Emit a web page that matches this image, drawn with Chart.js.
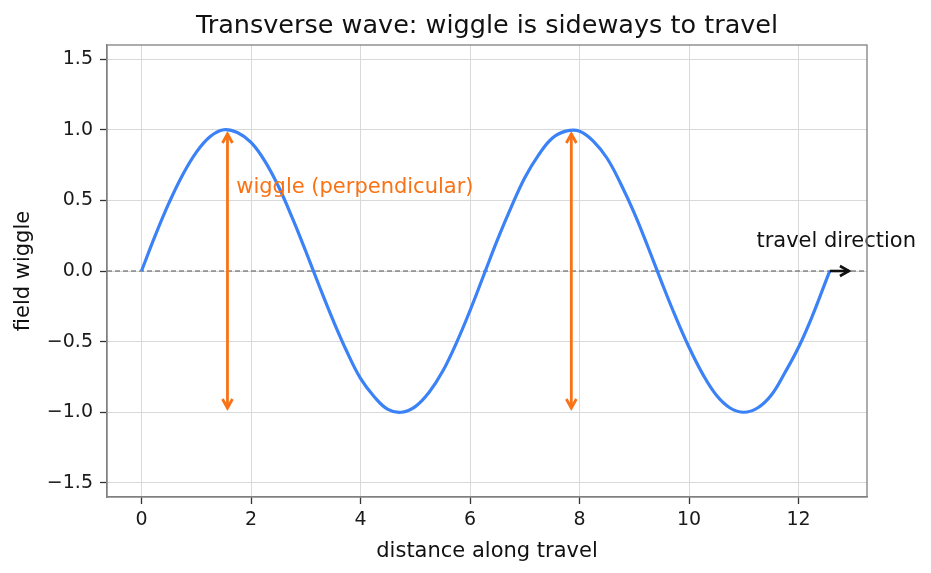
<!DOCTYPE html>
<html>
<head>
<meta charset="utf-8">
<script src="https://cdn.jsdelivr.net/npm/chart.js@4.4.1/dist/chart.umd.min.js"></script>
<style>
  html, body { margin: 0; padding: 0; background: #fff; }
  #wrap { width: 931px; height: 573px; }
</style>
</head>
<body>
<div id="wrap"><canvas id="myChart" width="931" height="573"></canvas></div>
<script>
// wave
const waveX = [0, 0.25, 0.5, 0.75, 1, 1.25, 1.5, 1.75, 2, 2.25, 2.5, 2.75, 3, 3.25, 3.5, 3.75, 4, 4.25, 4.5, 4.75, 5, 5.25, 5.5, 5.75, 6, 6.25, 6.5, 6.75, 7, 7.25, 7.5, 7.75, 8, 8.25, 8.5, 8.75, 9, 9.25, 9.5, 9.75, 10, 10.25, 10.5, 10.75, 11, 11.25, 11.5, 11.75, 12, 12.25, 12.5, 12.57];
const waveY = [0, 0.25, 0.48, 0.68, 0.84, 0.95, 1.0, 0.98, 0.91, 0.78, 0.6, 0.38, 0.14, -0.11, -0.35, -0.57, -0.76, -0.89, -0.98, -1.0, -0.96, -0.86, -0.71, -0.51, -0.28, -0.03, 0.22, 0.45, 0.66, 0.82, 0.94, 0.99, 0.99, 0.92, 0.8, 0.62, 0.41, 0.17, -0.08, -0.32, -0.54, -0.73, -0.88, -0.97, -1.0, -0.97, -0.88, -0.72, -0.54, -0.32, -0.07, 0];

// dashed baseline across the axes
const zeroX = [-0.63, 13.25];
const zeroY = [0, 0];

const xTicks = [0, 2, 4, 6, 8, 10, 12];
const yTicks = [-1.5, -1.0, -0.5, 0.0, 0.5, 1.0, 1.5];

// annotations
const wiggleArrowX = [1.57, 7.85];
const wiggleLow = -0.97;
const wiggleHigh = 0.97;
const travelFrom = 12.57;
const travelTo = 12.92;

const BLUE = "#3b82f6";
const ORANGE = "#f97316";
const FONT = "'DejaVu Sans', sans-serif";

function drawArrowHead(ctx, tx, ty, dx, dy, len, half) {
  // open "->" style head
  const n = Math.hypot(dx, dy);
  const ux = dx / n, uy = dy / n;
  ctx.beginPath();
  ctx.moveTo(tx - ux * len - uy * half, ty - uy * len + ux * half);
  ctx.lineTo(tx, ty);
  ctx.lineTo(tx - ux * len + uy * half, ty - uy * len - ux * half);
  ctx.stroke();
}

const decor = {
  id: "decor",
  afterDatasetsDraw(chart) {
    const { ctx, chartArea: a } = chart;
    const x = chart.scales.x, y = chart.scales.y;
    ctx.save();
    ctx.lineCap = "butt";
    ctx.lineJoin = "miter";

    // orange double arrows
    ctx.strokeStyle = ORANGE;
    ctx.lineWidth = 2.8;
    wiggleArrowX.forEach((v) => {
      const px = x.getPixelForValue(v);
      const y1 = y.getPixelForValue(wiggleLow);
      const y2 = y.getPixelForValue(wiggleHigh);
      ctx.beginPath();
      ctx.moveTo(px, y1);
      ctx.lineTo(px, y2);
      ctx.stroke();
      drawArrowHead(ctx, px, y2, 0, -1, 9, 5);
      drawArrowHead(ctx, px, y1, 0, 1, 9, 5);
    });

    // travel arrow
    ctx.strokeStyle = "#111";
    ctx.lineWidth = 2.6;
    const py = y.getPixelForValue(0);
    const p1 = x.getPixelForValue(travelFrom);
    const p2 = x.getPixelForValue(travelTo);
    ctx.beginPath();
    ctx.moveTo(p1, py);
    ctx.lineTo(p2, py);
    ctx.stroke();
    drawArrowHead(ctx, p2, py, 1, 0, 9, 5);

    // labels
    ctx.textBaseline = "alphabetic";
    ctx.textAlign = "left";
    ctx.font = "21px " + FONT;
    ctx.fillStyle = ORANGE;
    ctx.fillText("wiggle (perpendicular)", x.getPixelForValue(1.73), y.getPixelForValue(0.55));
    ctx.fillStyle = "#111";
    ctx.fillText("travel direction", x.getPixelForValue(11.23), y.getPixelForValue(0.17));

    // frame
    ctx.strokeStyle = "#808080";
    ctx.lineWidth = 1.3;
    ctx.strokeRect(a.left, a.top, a.right - a.left, a.bottom - a.top);

    // titles
    ctx.fillStyle = "#111";
    ctx.textAlign = "center";
    ctx.font = "25.5px " + FONT;
    ctx.fillText("Transverse wave: wiggle is sideways to travel", (a.left + a.right) / 2, 33);
    ctx.font = "21px " + FONT;
    ctx.fillText("distance along travel", (a.left + a.right) / 2, 557);
    ctx.translate(29, (a.top + a.bottom) / 2);
    ctx.rotate(-Math.PI / 2);
    ctx.fillText("field wiggle", 0, 0);
    ctx.restore();
  },
};

const ctx = document.getElementById("myChart");

new Chart(ctx, {
  type: "line",
  data: {
    datasets: [
      {
        data: waveX.map((v, i) => ({ x: v, y: waveY[i] })),
        borderColor: BLUE,
        borderWidth: 3.2,
        pointRadius: 0,
        tension: 0.4,
        order: 1,
      },
      {
        data: zeroX.map((v, i) => ({ x: v, y: zeroY[i] })),
        borderColor: "#555",
        borderWidth: 1.2,
        borderDash: [5, 3],
        pointRadius: 0,
        order: 2,
      },
    ],
  },
  options: {
    responsive: false,
    animation: false,
    layout: { padding: { left: 0, right: 64, top: 45, bottom: 0 } },
    plugins: { legend: { display: false }, tooltip: { enabled: false }, title: { display: false } },
    scales: {
      x: {
        type: "linear",
        min: -0.63,
        max: 13.25,
        afterBuildTicks: (s) => { s.ticks = xTicks.map((v) => ({ value: v })); },
        afterFit: (s) => { s.height = 76; },
        grid: { color: "#d9d9d9", lineWidth: 1, tickLength: 7, tickColor: "#333", tickWidth: 1.3 },
        border: { color: "#808080", width: 1.3 },
        ticks: { font: { family: FONT, size: 19 }, color: "#1a1a1a", padding: 5, maxRotation: 0 },
      },
      y: {
        type: "linear",
        min: -1.6,
        max: 1.6,
        afterBuildTicks: (s) => { s.ticks = yTicks.map((v) => ({ value: v })); },
        afterFit: (s) => { s.width = 107; },
        grid: { color: "#d9d9d9", lineWidth: 1, tickLength: 7, tickColor: "#333", tickWidth: 1.3 },
        border: { color: "#808080", width: 1.3 },
        ticks: {
          font: { family: FONT, size: 19 },
          color: "#1a1a1a",
          padding: 7,
          callback: (v) => (v < 0 ? "\u2212" + Math.abs(v).toFixed(1) : v.toFixed(1)),
        },
      },
    },
  },
  plugins: [decor],
});
</script>
</body>
</html>
